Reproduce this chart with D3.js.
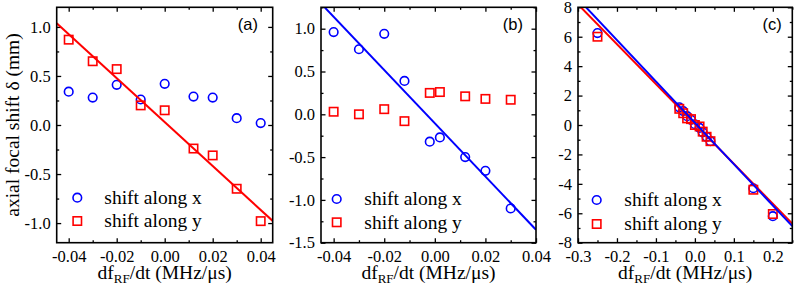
<!DOCTYPE html>
<html>
<head>
<meta charset="utf-8">
<script src="https://cdn.jsdelivr.net/npm/d3@7"></script>
<style>
  body { margin: 0; background: #fff; }
  svg { display: block; }
</style>
</head>
<body>
<div id="chart"></div>
<script>
// data
var xA = [-0.04, -0.03, -0.02, -0.01, 0.00, 0.012, 0.02, 0.03, 0.04];
var shiftXA = [0.34, 0.28, 0.41, 0.26, 0.42, 0.29, 0.28, 0.07, 0.02];
var shiftYA = [0.87, 0.65, 0.57, 0.20, 0.15, -0.24, -0.31, -0.65, -0.98];

var xB = [-0.04, -0.03, -0.02, -0.012, -0.002, 0.002, 0.012, 0.02, 0.03];
var shiftXB = [0.96, 0.76, 0.94, 0.39, -0.32, -0.27, -0.50, -0.66, -1.10];
var shiftYB = [0.03, 0.00, 0.06, -0.08, 0.25, 0.26, 0.21, 0.18, 0.17];

var xC = [-0.25, -0.04, -0.03, -0.02, -0.01, 0.00, 0.012, 0.02, 0.03, 0.04, 0.15, 0.2];
var shiftXC = [6.25, 1.2, 0.95, 0.6, 0.35, 0.05, -0.2, -0.5, -0.8, -1.1, -4.3, -6.2];
var shiftYC = [6.0, 1.1, 0.8, 0.45, 0.4, 0.0, -0.1, -0.45, -0.8, -1.1, -4.4, -6.05];

// linear fits (slope, intercept)
var fitAy = {slope: -22.4, intercept: 0.03};
var fitBx = {slope: -31.1, intercept: -0.105};
var fitCx = {slope: -28.1, intercept: 0.15};
var fitCy = {slope: -27.1, intercept: 0.07};

// ticks
var xTicksAB = [-0.04, -0.02, 0.00, 0.02, 0.04];
var xMinorAB = [-0.03, -0.01, 0.01, 0.03];
var xTicksC = [-0.3, -0.2, -0.1, 0.0, 0.1, 0.2];
var xMinorC = [-0.25, -0.15, -0.05, 0.05, 0.15, 0.25];
var yTicksA = [-1.0, -0.5, 0.0, 0.5, 1.0];
var yMinorA = [-0.75, -0.25, 0.25, 0.75];
var yTicksB = [-1.5, -1.0, -0.5, 0.0, 0.5, 1.0];
var yMinorB = [-1.25, -0.75, -0.25, 0.25, 0.75, 1.25];
var yTicksC = [-8, -6, -4, -2, 0, 2, 4, 6, 8];
var yMinorC = [-7, -5, -3, -1, 1, 3, 5, 7];

var legendLabels = ["shift along x", "shift along y"];

var BLUE = "#0000ff", RED = "#ff0000";
var SERIF = "'Liberation Serif', 'Times New Roman', serif";
var SANS = "'Liberation Sans', Arial, sans-serif";

var svg = d3.select("#chart").append("svg")
    .attr("width", 797).attr("height", 288);

var plotTop = 7.3, plotBottom = 242.7;

var panels = [
    {left: 56.7, right: 272.7, xDom: [-0.045, 0.045], yDom: [-1.2, 1.2],
     xT: xTicksAB, xM: xMinorAB, yT: yTicksA, yM: yMinorA, xF: ".2f", yF: ".1f",
     xs: xA, blue: shiftXA, red: shiftYA, fits: [[fitAy, RED]],
     label: "(a)", labelDx: 14.7, leg: {cx: 20.6, tx: 47.6, y1: 190.4, y2: 213.7}},
    {left: 321, right: 536, xDom: [-0.045, 0.04], yDom: [-1.5, 1.25],
     xT: xTicksAB, xM: xMinorAB, yT: yTicksB, yM: yMinorB, xF: ".2f", yF: ".1f",
     xs: xB, blue: shiftXB, red: shiftYB, fits: [[fitBx, BLUE]],
     label: "(b)", labelDx: 13, leg: {cx: 15.7, tx: 43.3, y1: 191.7, y2: 215}},
    {left: 578, right: 792.3, xDom: [-0.3, 0.25], yDom: [-8, 8],
     xT: xTicksC, xM: xMinorC, yT: yTicksC, yM: yMinorC, xF: ".1f", yF: "d",
     xs: xC, blue: shiftXC, red: shiftYC, fits: [[fitCy, RED], [fitCx, BLUE]],
     label: "(c)", labelDx: 10.6, leg: {cx: 18.7, tx: 46.3, y1: 192.7, y2: 216.7}}
];

function fmt(spec) {
    var f = d3.format(spec);
    return function (d) { return f(d).replace("\u2212", "-"); };
}

function styleAxis(sel) {
    sel.select(".domain").remove();
    sel.selectAll("line").attr("stroke", "#000").attr("stroke-width", 1.3);
    sel.selectAll("text").attr("font-family", SERIF).attr("font-size", 16.5).attr("fill", "#000");
}

panels.forEach(function (p, i) {
    var w = p.right - p.left, h = plotBottom - plotTop;
    var g = svg.append("g").attr("transform", "translate(" + p.left + "," + plotTop + ")");

    var x = d3.scaleLinear().domain(p.xDom).range([0, w]);
    var y = d3.scaleLinear().domain(p.yDom).range([h, 0]);

    g.append("clipPath").attr("id", "clip" + i)
        .append("rect").attr("width", w).attr("height", h);

    // axes: major + minor ticks, all pointing inward
    g.append("g").attr("transform", "translate(0," + h + ")")
        .call(d3.axisBottom(x).tickValues(p.xT).tickFormat(fmt(p.xF))
            .tickSizeInner(-4.5).tickSizeOuter(0).tickPadding(7.5))
        .call(styleAxis);
    g.append("g").attr("transform", "translate(0," + h + ")")
        .call(d3.axisBottom(x).tickValues(p.xM).tickFormat("").tickSizeInner(-2.5).tickSizeOuter(0))
        .call(styleAxis);
    g.append("g")
        .call(d3.axisLeft(y).tickValues(p.yT).tickFormat(fmt(p.yF))
            .tickSizeInner(-4.5).tickSizeOuter(0).tickPadding(6))
        .call(styleAxis);
    g.append("g")
        .call(d3.axisLeft(y).tickValues(p.yM).tickFormat("").tickSizeInner(-2.5).tickSizeOuter(0))
        .call(styleAxis);
    g.append("g")
        .call(d3.axisTop(x).tickValues(p.xT).tickFormat("").tickSizeInner(-4.5).tickSizeOuter(0))
        .call(styleAxis);
    g.append("g")
        .call(d3.axisTop(x).tickValues(p.xM).tickFormat("").tickSizeInner(-2.5).tickSizeOuter(0))
        .call(styleAxis);
    g.append("g").attr("transform", "translate(" + w + ",0)")
        .call(d3.axisRight(y).tickValues(p.yT).tickFormat("").tickSizeInner(-4.5).tickSizeOuter(0))
        .call(styleAxis);
    g.append("g").attr("transform", "translate(" + w + ",0)")
        .call(d3.axisRight(y).tickValues(p.yM).tickFormat("").tickSizeInner(-2.5).tickSizeOuter(0))
        .call(styleAxis);

    // markers
    var pts = p.xs.map(function (d, k) { return {x: d, b: p.blue[k], r: p.red[k]}; });
    var plot = g.append("g").attr("clip-path", "url(#clip" + i + ")");

    plot.selectAll("circle.sx").data(pts).enter().append("circle")
        .attr("class", "sx")
        .attr("cx", function (d) { return x(d.x); })
        .attr("cy", function (d) { return y(d.b); })
        .attr("r", 4.3)
        .attr("fill", "none").attr("stroke", BLUE).attr("stroke-width", 1.6);

    plot.selectAll("rect.sy").data(pts).enter().append("rect")
        .attr("class", "sy")
        .attr("x", function (d) { return x(d.x) - 4.2; })
        .attr("y", function (d) { return y(d.r) - 4.2; })
        .attr("width", 8.4).attr("height", 8.4)
        .attr("fill", "none").attr("stroke", RED).attr("stroke-width", 1.6);

    // fit lines
    p.fits.forEach(function (f) {
        var line = d3.line()
            .x(function (d) { return x(d); })
            .y(function (d) { return y(f[0].intercept + f[0].slope * d); });
        plot.append("path").datum(p.xDom)
            .attr("d", line)
            .attr("fill", "none").attr("stroke", f[1]).attr("stroke-width", 2);
    });

    // frame
    g.append("rect").attr("width", w).attr("height", h)
        .attr("fill", "none").attr("stroke", "#000").attr("stroke-width", 1.6);

    // panel label
    g.append("text").attr("x", w - p.labelDx).attr("y", 23)
        .attr("text-anchor", "end")
        .attr("font-family", SANS).attr("font-size", 16.5)
        .text(p.label);

    // legend
    g.append("circle").attr("cx", p.leg.cx).attr("cy", p.leg.y1).attr("r", 4.3)
        .attr("fill", "none").attr("stroke", BLUE).attr("stroke-width", 1.6);
    g.append("rect").attr("x", p.leg.cx - 4.2).attr("y", p.leg.y2 - 4.2)
        .attr("width", 8.4).attr("height", 8.4)
        .attr("fill", "none").attr("stroke", RED).attr("stroke-width", 1.6);
    [p.leg.y1, p.leg.y2].forEach(function (ly, k) {
        g.append("text").attr("x", p.leg.tx).attr("y", ly + 6.5)
            .attr("font-family", SERIF).attr("font-size", 19.5)
            .text(legendLabels[k]);
    });

    // x axis title with subscript
    var xt = svg.append("text")
        .attr("x", p.left + w / 2).attr("y", 278.5)
        .attr("text-anchor", "middle")
        .attr("font-family", SERIF).attr("font-size", 19.5);
    xt.append("tspan").text("df");
    xt.append("tspan").attr("font-size", 13).attr("dy", 4.5).text("RF");
    xt.append("tspan").attr("dy", -4.5).text("/dt (MHz/\u03bcs)");
});

// y axis title
svg.append("text")
    .attr("transform", "translate(19," + (plotTop + plotBottom) / 2 + ") rotate(-90)")
    .attr("text-anchor", "middle")
    .attr("font-family", SERIF).attr("font-size", 19.5)
    .text("axial focal shift \u03b4 (mm)");
</script>
</body>
</html>
